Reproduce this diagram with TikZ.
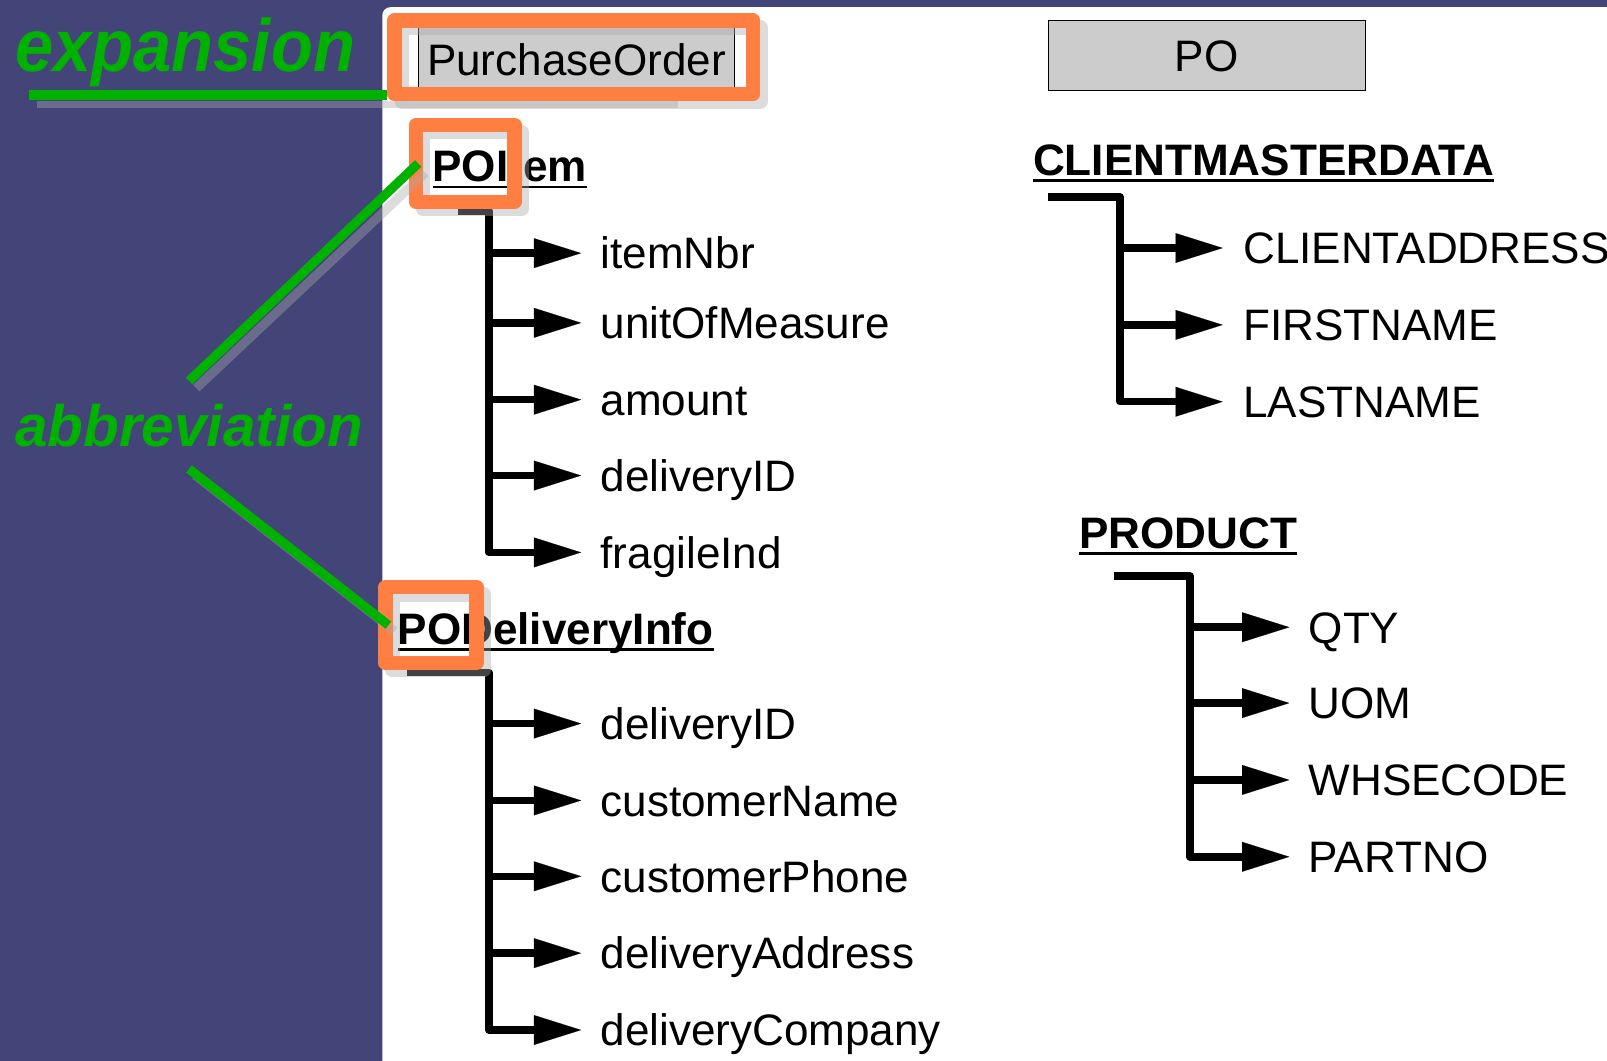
\documentclass[tikz,border=0pt]{standalone}
\usepackage{fontspec}
\setmainfont{Liberation Sans}
\usetikzlibrary{arrows.meta}

\definecolor{slide}{RGB}{67,68,120}
\definecolor{mark}{RGB}{255,127,66}
\definecolor{callout}{RGB}{0,178,0}
\definecolor{boxgrey}{RGB}{204,204,204}
\definecolor{shade}{RGB}{168,168,168}

\tikzset{
  txt/.style={inner sep=0pt, outer sep=0pt, font=\fontsize{43}{48}\selectfont,
    text height=30.8pt, text depth=0pt},
  field/.style={txt, anchor=west},
  header/.style={txt, anchor=south west, font=\fontsize{43}{48}\selectfont\bfseries},
  uline/.style={line width=2.8pt},
  spine/.style={line width=7.3pt, line join=round,
    -{Triangle[length=46pt,width=29pt,line width=0.1pt]}},
  branch/.style={line width=7.3pt,
    -{Triangle[length=46pt,width=29pt,line width=0.1pt]}},
  titlebox/.style={txt, draw=black, line width=1.2pt, fill=boxgrey,
    minimum width=309pt, minimum height=68pt},
  frame/.style={draw=mark, line width=14pt, line join=round,
    inner sep=0pt, outer sep=0pt},
  frameshadow/.style={draw=shade, draw opacity=0.4, line width=14pt,
    line join=round, inner sep=0pt, outer sep=0pt},
  callline/.style={draw=callout, line width=9pt},
  callshadow/.style={draw=shade, draw opacity=0.4, line width=9pt},
  calltext/.style={text=callout, inner sep=0pt, outer sep=0pt, anchor=base west},
}

\begin{document}
\begin{tikzpicture}[x=1pt,y=-1pt]
\useasboundingbox (0,0) rectangle (1568,1035);
\begin{scope}
\clip (0,0) rectangle (1568,1035);

% slide background and content panel
\fill[slide] (0,0) rectangle (1568,1035);
\fill[white, rounded corners=8pt] (373,7) rectangle (1620,1080);

% entity boxes
\node[titlebox] (po-long) at (562.5,58) {PurchaseOrder};
\node[titlebox] (po-short) at (1177.5,54) {PO};

% ---- POItem tree
\node[header] (hA) at (422,177) {POItem};
\draw[uline] ([yshift=-5.5pt]hA.south west) -- ([yshift=-5.5pt]hA.south east);
\node[field] (a1) at (586,247) {itemNbr};
\node[field] (a2) at (586,315) {unitOfMeasure};
\node[field] (a3) at (586,390) {amount};
\node[field] (a4) at (586,464) {deliveryID};
\node[field] (a5) at (586,539) {fragileInd};
\coordinate (stubA) at (447,206);
\coordinate (topA) at (477,206);
\draw[spine] (stubA) -- (topA) -- (topA |- a5.west) -- ([xshift=-19pt]a5.west);
\foreach \n in {a1,a2,a3,a4}
  \draw[branch] (topA |- \n.west) -- ([xshift=-19pt]\n.west);

% ---- PODeliveryInfo tree
\node[header] (hB) at (388,629) {PODeliveryInfo};
\draw[uline] ([yshift=-5pt]hB.south west) -- ([yshift=-5pt]hB.south east);
\node[field] (b1) at (586,706) {deliveryID};
\node[field] (b2) at (586,781) {customerName};
\node[field] (b3) at (586,855) {customerPhone};
\node[field] (b4) at (586,930) {deliveryAddress};
\node[field] (b5) at (586,1005) {deliveryCompany};
\coordinate (stubB) at (397,656);
\coordinate (topB) at (477,656);
\draw[spine] (stubB) -- (topB) -- (topB |- b5.west) -- ([xshift=-19pt]b5.west);
\foreach \n in {b1,b2,b3,b4}
  \draw[branch] (topB |- \n.west) -- ([xshift=-19pt]\n.west);

% ---- CLIENTMASTERDATA tree
\node[header] (hC) at (1008,171) {CLIENTMASTERDATA};
\draw[uline] ([yshift=-5.5pt]hC.south west) -- ([yshift=-5.5pt]hC.south east);
\node[field] (c1) at (1213,242) {CLIENTADDRESS};
\node[field] (c2) at (1213,317) {FIRSTNAME};
\node[field] (c3) at (1213,392) {LASTNAME};
\coordinate (stubC) at (1023,192);
\coordinate (topC) at (1093,192);
\draw[spine] (stubC) -- (topC) -- (topC |- c3.west) -- ([xshift=-20pt]c3.west);
\foreach \n in {c1,c2}
  \draw[branch] (topC |- \n.west) -- ([xshift=-20pt]\n.west);

% ---- PRODUCT tree
\node[header] (hD) at (1053,535) {PRODUCT};
\draw[uline] ([yshift=-5pt]hD.south west) -- ([yshift=-5pt]hD.south east);
\node[field] (d1) at (1277,612) {QTY};
\node[field] (d2) at (1277,686) {UOM};
\node[field] (d3) at (1277,761) {WHSECODE};
\node[field] (d4) at (1277,836) {PARTNO};
\coordinate (stubD) at (1087,562);
\coordinate (topD) at (1161,562);
\draw[spine] (stubD) -- (topD) -- (topD |- d4.west) -- ([xshift=-19pt]d4.west);
\foreach \n in {d1,d2,d3}
  \draw[branch] (topD |- \n.west) -- ([xshift=-19pt]\n.west);

% ---- callout labels
\node[calltext, font=\fontsize{67}{72}\selectfont\bfseries\itshape]
  (expn) at (15,70) {\scalebox{1}[1.08]{expansion}};
\node[calltext, font=\fontsize{57}{62}\selectfont\bfseries\itshape]
  (abbr) at (15,436) {abbreviation};

% drop shadows of the highlight frames
\node[frameshadow, minimum width=350pt, minimum height=72pt] at (567,63) {};
\node[frameshadow, minimum width=96pt, minimum height=75pt] at (461,166.5) {};
\node[frameshadow, minimum width=89pt, minimum height=74pt] at (427.5,617) {};

% underline-style callout toward the expanded name
\coordinate (xpA) at (28,93);
\coordinate (xpS) at (36,102);
\coordinate (xpSend) at (662,102);
\draw[callshadow, line width=7pt] (xpS) -- (xpSend);

% highlight frames
\node[frame, minimum width=350pt, minimum height=72pt] (f1) at (560,56) {};
\node[frame, minimum width=96pt, minimum height=75pt] (f2) at (454,159.5) {};
\node[frame, minimum width=89pt, minimum height=74pt] (f3) at (420.5,610) {};

\draw[callline, line width=10pt] (xpA) -- ([xshift=-7pt]xpA -| f1.west);

% abbreviation callouts with their drop shadows
\draw[callshadow] ([shift={(7pt,16pt)}]abbr.north) -- ([shift={(9pt,-9pt)}]f2.west);
\draw[callshadow] ([shift={(6pt,-27pt)}]abbr.south) -- ([shift={(9pt,-6pt)}]f3.west);
\draw[callline] ([yshift=23pt]abbr.north) -- ([xshift=2pt]f2.west);
\draw[callline] ([yshift=-21pt]abbr.south) -- ([xshift=3pt]f3.west);

\end{scope}
\end{tikzpicture}
\end{document}
